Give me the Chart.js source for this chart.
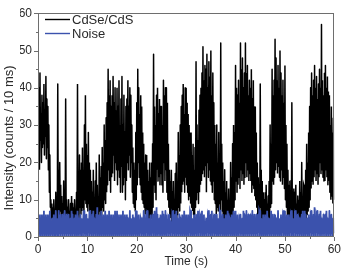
<!DOCTYPE html>
<html>
<head>
<meta charset="utf-8">
<script src="https://cdn.jsdelivr.net/npm/chart.js@4.4.1/dist/chart.umd.min.js"></script>
<style>
  html, body { margin: 0; padding: 0; background: #fff; }
  #wrap { width: 346px; height: 269px; }
</style>
</head>
<body>
<div id="wrap"><canvas id="c" width="346" height="269"></canvas></div>
<script>
// ---- data (0.1 s sampling, alternating peak / trough) ----
const timeStep = 0.1; // seconds between samples
const cdseCounts = [
  35,22,40,18,44,26,33,20,38,24,  36,25,41,22,34,27,43,21,37,24,
  35,18,30,12,22,8,10,5,9,4,      8,3,10,4,7,3,12,5,9,3,
  41,6,18,5,20,7,14,4,11,3,       9,4,15,5,12,4,37,6,10,3,
  8,3,10,4,7,3,9,4,11,3,          9,4,8,3,10,4,7,3,12,5,
  41,6,15,5,22,8,18,6,20,7,       24,8,18,6,30,10,38,9,25,8,
  22,7,28,9,20,6,18,5,15,4,       12,4,18,5,10,3,15,5,20,6,
  14,4,11,3,22,7,16,5,19,6,       24,8,20,7,30,10,26,9,32,12,
  36,14,45,18,38,15,42,12,35,16,  38,17,43,22,36,15,40,20,34,18,
  40,14,35,18,42,16,30,12,37,19,  43,12,30,14,38,16,28,10,35,15,
  37,20,42,18,35,22,40,16,38,20,  30,12,24,9,20,8,18,7,28,10,
  36,14,45,20,40,16,33,14,38,12,  35,10,28,9,25,8,20,6,22,7,
  22,5,18,4,15,5,20,6,16,5,       20,6,25,8,49,14,35,12,30,10,
  38,18,40,15,33,16,37,14,35,17,  35,14,30,12,42,20,38,15,40,18,
  40,12,36,10,25,8,18,6,15,5,     18,4,12,5,15,4,10,3,17,6,
  20,5,15,6,28,8,22,7,30,9,       35,12,38,14,41,15,33,12,40,16,
  40,14,36,12,33,10,30,11,28,9,   28,8,22,7,25,6,18,5,24,8,
  47,10,30,12,26,9,34,12,38,14,   40,15,44,17,51,18,42,16,46,19,
  45,12,49,20,40,16,47,18,43,15,  50,14,38,12,44,15,36,10,30,9,
  25,6,30,8,20,7,28,9,22,6,       52,10,25,7,20,5,15,4,18,6,
  12,3,15,4,10,3,13,4,9,3,        20,5,16,4,25,7,30,8,28,10,
  46,15,40,12,38,14,42,16,36,13,  52,18,45,15,48,17,40,14,44,16,
  52,20,44,16,46,18,38,15,42,17,  40,15,45,12,37,14,42,13,35,11,
  35,10,28,8,20,6,16,5,14,4,      41,8,18,5,15,4,12,3,10,4,
  12,3,14,4,9,3,11,4,15,5,        30,8,25,9,45,15,38,14,42,16,
  53,18,48,20,42,17,46,19,40,16,  50,15,44,18,38,14,42,16,36,13,
  46,10,30,8,25,6,18,5,14,4,      15,4,12,3,36,5,10,4,13,3,
  12,3,14,4,9,3,11,4,10,3,        15,4,12,3,20,5,10,4,14,3,
  14,4,18,5,25,6,20,7,28,8,       35,10,40,13,44,15,38,14,42,16,
  46,18,40,15,43,17,37,14,41,16,  45,20,40,17,57,18,42,16,38,15,
  44,15,46,18,40,16,43,14,39,15,  38,12,30,10,35,11,28,9,32,10
];
const noiseCounts = [
  7,0,5,1,6,0,4,1,6,0,  5,1,7,0,4,1,6,0,5,1,  6,0,4,1,7,0,5,1,3,0,  5,1,6,0,4,0,7,1,5,0,
  4,0,7,1,5,0,6,1,4,0,  6,1,5,0,7,1,4,0,6,1,  5,0,6,1,4,0,5,1,7,0,  6,1,4,0,5,1,6,0,4,1,
  7,0,5,1,4,0,6,1,5,0,  4,1,6,0,7,1,5,0,6,1,  5,0,4,1,6,0,7,1,4,0,  6,1,7,0,5,1,4,0,6,1,
  8,0,5,1,6,0,4,1,7,0,  5,1,6,0,4,1,7,0,5,1,  6,0,5,1,7,0,4,1,6,0,  4,1,6,0,5,1,7,0,4,1,
  7,0,4,1,6,0,5,1,6,0,  5,1,7,0,4,1,6,0,5,1,  6,0,5,1,4,0,7,1,5,0,  4,1,6,0,5,1,4,0,7,1,
  7,0,5,1,6,0,4,1,5,0,  5,1,4,0,7,1,6,0,4,1,  6,0,7,1,5,0,4,1,6,0,  4,1,5,0,6,1,7,0,5,1,
  8,0,6,1,4,0,5,1,6,0,  5,1,7,0,6,1,4,0,7,1,  6,0,4,1,5,0,6,1,4,0,  4,1,6,0,7,1,5,0,6,1,
  7,0,5,1,4,0,6,1,5,0,  5,1,6,0,5,1,7,0,4,1,  6,0,4,1,6,0,5,1,7,0,  7,1,5,0,4,1,6,0,5,1,
  5,0,6,1,7,0,4,1,6,0,  6,1,7,0,5,1,6,0,4,1,  4,0,5,1,6,0,7,1,5,0,  6,1,7,0,4,1,5,0,6,1,
  5,0,6,1,5,0,4,1,7,0,  7,1,4,0,6,1,5,0,4,1,  6,0,5,1,7,0,6,1,5,0,  5,1,6,0,4,1,7,0,6,1,
  7,0,5,1,6,0,4,1,5,0,  6,1,4,0,5,1,7,0,6,1,  5,0,7,1,4,0,6,1,5,0,  6,1,5,0,7,1,4,0,6,1,
  4,0,6,1,5,0,6,1,7,0,  7,1,5,0,4,1,6,0,5,1,  6,0,4,1,7,0,5,1,4,0,  5,1,7,0,6,1,4,0,6,1,
  6,0,5,1,4,0,7,1,5,0,  4,1,6,0,5,1,6,0,7,1,  7,0,5,1,6,0,4,1,6,0,  5,1,6,0,7,1,5,0,4,1,
  6,0,7,1,5,0,6,1,5,0,  5,1,4,0,6,1,7,0,5,1,  7,0,6,1,4,0,5,1,6,0,  5,1,6,0,7,1,4,0,6,1,
  8,0,5,1,6,0,7,1,4,0,  6,1,7,0,5,1,4,0,6,1,  5,0,6,1,7,0,5,1,4,0,  7,1,5,0,6,1,4,0,5,1
];
const seriesNames = ['CdSe/CdS', 'Noise'];
const seriesColors = ['#000000', '#3b52ad'];
const xTickValues = [0, 10, 20, 30, 40, 50, 60];
const yTickValues = [0, 10, 20, 30, 40, 50, 60];
const xTitle = 'Time (s)';
const yTitle = 'Intensity (counts / 10 ms)';

const toPoints = arr => arr.map((v, i) => ({ x: i * timeStep, y: v }));

const frameColor = '#6e6e6e';
const textColor = '#2a2a2a';
const FONT = '"Liberation Sans", Arial, sans-serif';

const framePlugin = {
  id: 'frameTicks',
  afterDraw(chart) {
    const { ctx, chartArea: a, scales } = chart;
    ctx.save();
    ctx.strokeStyle = frameColor;
    ctx.lineWidth = 1;
    ctx.strokeRect(Math.round(a.left) + 0.5, Math.round(a.top) + 0.5,
                   Math.round(a.right - a.left) - 1, Math.round(a.bottom - a.top) - 1);
    ctx.beginPath();
    for (let v = 0; v <= 60; v += 5) {
      const len = v % 10 === 0 ? 4 : 2;
      const px = Math.round(scales.x.getPixelForValue(v)) + 0.5;
      ctx.moveTo(px, a.bottom);
      ctx.lineTo(px, a.bottom + len);
      const py = Math.round(scales.y.getPixelForValue(v)) + 0.5;
      ctx.moveTo(a.left, py);
      ctx.lineTo(a.left - len, py);
    }
    ctx.stroke();
    // y-axis title (rotated), placed as in the reference
    ctx.save();
    ctx.translate(9, 138);
    ctx.rotate(-Math.PI / 2);
    ctx.fillStyle = textColor;
    ctx.font = '13px ' + FONT;
    ctx.textAlign = 'center';
    ctx.textBaseline = 'middle';
    ctx.fillText(yTitle, 0, 0);
    ctx.restore();
    // legend
    const ds = chart.data.datasets;
    [0, 1].forEach((k, r) => {
      const y = 19 + r * 14;
      ctx.strokeStyle = seriesColors[k];
      ctx.lineWidth = 1.4;
      ctx.beginPath();
      ctx.moveTo(45, y + 0.5);
      ctx.lineTo(70, y + 0.5);
      ctx.stroke();
      ctx.fillStyle = textColor;
      ctx.font = '13px ' + FONT;
      ctx.textBaseline = 'middle';
      ctx.textAlign = 'left';
      ctx.fillText(ds[k].label, 72, y + 1);
    });
    ctx.restore();
  }
};

new Chart(document.getElementById('c'), {
  type: 'line',
  data: {
    datasets: [
      { label: seriesNames[0], data: toPoints(cdseCounts), borderColor: seriesColors[0],
        borderWidth: 1.5, pointRadius: 0, tension: 0.01, order: 1 },
      { label: seriesNames[1], data: toPoints(noiseCounts), borderColor: seriesColors[1],
        borderWidth: 1.8, pointRadius: 0, tension: 0.01, order: 0 }
    ]
  },
  options: {
    responsive: false,
    animation: false,
    devicePixelRatio: 1,
    layout: { padding: { top: 11, right: 3, left: 20, bottom: 0 } },
    plugins: { legend: { display: false }, tooltip: { enabled: false } },
    scales: {
      x: {
        type: 'linear', min: 0, max: 60,
        afterFit: s => { s.height = 32; },
        afterBuildTicks: s => { s.ticks = xTickValues.map(v => ({ value: v })); },
        grid: { display: false, drawTicks: false },
        border: { display: false },
        ticks: { padding: 5, color: textColor, font: { family: FONT, size: 12 }, maxRotation: 0 },
        title: { display: true, text: xTitle, color: textColor, padding: { top: 1, bottom: 0 },
                 font: { family: FONT, size: 12 } }
      },
      y: {
        min: 0, max: 60,
        afterFit: s => { s.width = 18; },
        afterBuildTicks: s => { s.ticks = yTickValues.map(v => ({ value: v })); },
        grid: { display: false, drawTicks: false },
        border: { display: false },
        ticks: { padding: 6, color: textColor, font: { family: FONT, size: 12 } },
        title: { display: false }
      }
    }
  },
  plugins: [framePlugin]
});
</script>
</body>
</html>
